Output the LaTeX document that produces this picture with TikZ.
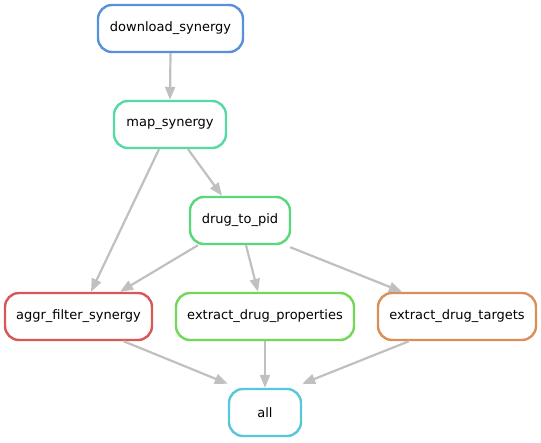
\documentclass[tikz,border=0pt]{standalone}
\usepackage{fontspec}
\setmainfont{DejaVu Sans}
\usetikzlibrary{arrows.meta}
\definecolor{cdl}{RGB}{87,145,217}
\definecolor{cmap}{RGB}{87,217,165}
\definecolor{cpid}{RGB}{87,217,123}
\definecolor{cagg}{RGB}{217,87,87}
\definecolor{cprop}{RGB}{113,217,87}
\definecolor{ctar}{RGB}{217,143,87}
\definecolor{call}{RGB}{87,200,217}
\definecolor{cedge}{RGB}{192,192,192}
\tikzset{
  rule/.style={draw, line width=2.4pt, rounded corners=14pt, fill=white,
    minimum height=47pt, inner sep=0pt, font=\fontsize{13}{15}\selectfont, text=black},
  edge/.style={draw=cedge, line width=2.2pt, -{Triangle[length=13pt,width=10pt]}}
}
\begin{document}
\begin{tikzpicture}[x=1pt,y=-1pt]
\useasboundingbox (0,0) rectangle (541,443);
\node[rule, draw=cdl, minimum width=145pt] (dl) at (170.5,28.5) {download\_synergy};
\node[rule, draw=cmap, minimum width=112pt] (map) at (170,124.5) {map\_synergy};
\node[rule, draw=cpid, minimum width=100pt] (pid) at (240,220.5) {drug\_to\_pid};
\node[rule, draw=cagg, minimum width=147pt] (agg) at (78.5,316.5) {aggr\_filter\_synergy};
\node[rule, draw=cprop, minimum width=178pt] (prop) at (265,316.5) {extract\_drug\_properties};
\node[rule, draw=ctar, minimum width=158pt] (tar) at (457,316.5) {extract\_drug\_targets};
\node[rule, draw=call, minimum width=72pt] (all) at (265,412.5) {all};
\draw[edge] (dl.south) -- (map.north);
\draw[edge] ([xshift=-11pt]map.south) -- ([xshift=12.5pt]agg.north);
\draw[edge] ([xshift=18pt]map.south) -- ([xshift=-18pt]pid.north);
\draw[edge] ([xshift=-42pt]pid.south) -- ([xshift=41.5pt]agg.north);
\draw[edge] ([xshift=6pt]pid.south) -- ([xshift=-7pt]prop.north);
\draw[edge] ([xshift=-1pt,yshift=-2pt]pid.south east) -- ([xshift=-55pt]tar.north);
\draw[edge] ([xshift=45pt]agg.south) -- ([yshift=4pt]all.north west);
\draw[edge] (prop.south) -- (all.north);
\draw[edge] ([xshift=-48pt]tar.south) -- ([yshift=4pt]all.north east);
\end{tikzpicture}
\end{document}
